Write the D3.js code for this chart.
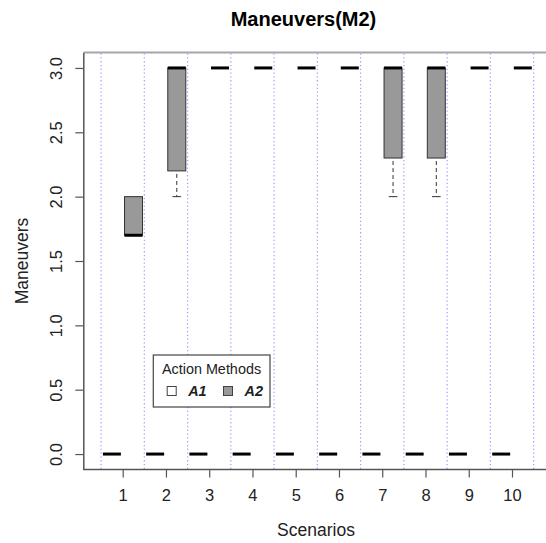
<!DOCTYPE html>
<html>
<head>
<meta charset="utf-8">
<script src="https://cdn.jsdelivr.net/npm/d3@7"></script>
<style>
  html, body { margin: 0; padding: 0; background: #fff; }
  svg { display: block; font-family: "Liberation Sans", Arial, Helvetica, sans-serif; }
</style>
</head>
<body>
<svg id="chart" width="546" height="543"></svg>
<script>
// Scenarios on the x axis
const scenarios = [1, 2, 3, 4, 5, 6, 7, 8, 9, 10];
// Five-number summaries per scenario: [min, q1, median, q3, max]
const statsA1 = [
  [0, 0, 0, 0, 0], [0, 0, 0, 0, 0], [0, 0, 0, 0, 0], [0, 0, 0, 0, 0], [0, 0, 0, 0, 0],
  [0, 0, 0, 0, 0], [0, 0, 0, 0, 0], [0, 0, 0, 0, 0], [0, 0, 0, 0, 0], [0, 0, 0, 0, 0]
];
const statsA2 = [
  [1.7, 1.7, 1.7, 2.0, 2.0],
  [2.0, 2.2, 3.0, 3.0, 3.0],
  [3, 3, 3, 3, 3],
  [3, 3, 3, 3, 3],
  [3, 3, 3, 3, 3],
  [3, 3, 3, 3, 3],
  [2.0, 2.3, 3.0, 3.0, 3.0],
  [2.0, 2.3, 3.0, 3.0, 3.0],
  [3, 3, 3, 3, 3],
  [3, 3, 3, 3, 3]
];
const methods = ["A1", "A2"];
const methodFill = ["#ffffff", "#999999"];
const yTicks = [0, 0.5, 1.0, 1.5, 2.0, 2.5, 3.0];

const svg = d3.select("#chart");
const plotLeft = 83.3, plotTop = 52.5, plotBottom = 469.5, plotRight = 560;

const x = d3.scaleLinear().domain([1, 10]).range([122.7, 512]);
const y = d3.scaleLinear().domain([-0.12, 3.12]).range([plotBottom, plotTop]);

// Dotted separators between scenarios
const seps = d3.range(0.5, 11, 1);
svg.append("g").selectAll("line").data(seps).join("line")
  .attr("x1", d => x(d)).attr("x2", d => x(d))
  .attr("y1", plotTop + 1).attr("y2", plotBottom)
  .attr("stroke", "#9f9fff").attr("stroke-width", 1.2)
  .attr("stroke-dasharray", "1.3,2.5");

// Top frame line
svg.append("line")
  .attr("x1", plotLeft).attr("x2", plotRight).attr("y1", plotTop).attr("y2", plotTop)
  .attr("stroke", "#a6a6a6").attr("stroke-width", 2);

// Y axis
const yAxis = svg.append("g").attr("transform", `translate(${plotLeft},0)`)
  .call(d3.axisLeft(y).tickValues(yTicks).tickFormat(d3.format(".1f")).tickSize(8).tickSizeOuter(0));
yAxis.select(".domain").attr("stroke", "#555").attr("stroke-width", 1.5);
yAxis.selectAll(".tick line").attr("stroke", "#555").attr("stroke-width", 1.2);
yAxis.selectAll(".tick text")
  .attr("x", null).attr("dy", null)
  .attr("transform", "translate(-27,0) rotate(-90)")
  .attr("text-anchor", "middle").attr("dominant-baseline", "central")
  .attr("font-size", 16.5).attr("fill", "#222");

// X axis
const xAxis = svg.append("g").attr("transform", `translate(0,${plotBottom})`)
  .call(d3.axisBottom(x).tickValues(scenarios).tickFormat(d3.format("d")).tickSize(8).tickSizeOuter(0));
xAxis.select(".domain").attr("d", `M${plotLeft},0H${plotRight}`).attr("stroke", "#555").attr("stroke-width", 1.5);
xAxis.selectAll(".tick line").attr("stroke", "#555").attr("stroke-width", 1.2);
xAxis.selectAll(".tick text").attr("y", 26).attr("dy", "0.35em")
  .attr("font-size", 16.5).attr("fill", "#222");

// Boxes
const offset = 0.25, halfW = 0.208, staple = 0.1;
function drawBoxes(stats, mi) {
  const g = svg.append("g");
  stats.forEach((s, i) => {
    const cx = scenarios[i] + (mi === 0 ? -offset : offset);
    const [mn, q1, med, q3, mx] = s;
    // whiskers with end staples
    if (mn < q1) {
      g.append("line").attr("x1", x(cx)).attr("x2", x(cx)).attr("y1", y(q1) + 3).attr("y2", y(mn))
        .attr("stroke", "#333").attr("stroke-width", 1).attr("stroke-dasharray", "4,3");
      g.append("line").attr("x1", x(cx - staple)).attr("x2", x(cx + staple)).attr("y1", y(mn)).attr("y2", y(mn))
        .attr("stroke", "#333").attr("stroke-width", 1);
    }
    if (mx > q3) {
      g.append("line").attr("x1", x(cx)).attr("x2", x(cx)).attr("y1", y(q3) - 3).attr("y2", y(mx))
        .attr("stroke", "#333").attr("stroke-width", 1).attr("stroke-dasharray", "4,3");
      g.append("line").attr("x1", x(cx - staple)).attr("x2", x(cx + staple)).attr("y1", y(mx)).attr("y2", y(mx))
        .attr("stroke", "#333").attr("stroke-width", 1);
    }
    if (q3 > q1) {
      g.append("rect")
        .attr("x", x(cx - halfW)).attr("width", x(cx + halfW) - x(cx - halfW))
        .attr("y", y(q3)).attr("height", y(q1) - y(q3))
        .attr("fill", methodFill[mi]).attr("stroke", "#333").attr("stroke-width", 1);
    }
    g.append("line").attr("x1", x(cx - halfW)).attr("x2", x(cx + halfW))
      .attr("y1", y(med)).attr("y2", y(med))
      .attr("stroke", "#000").attr("stroke-width", 3);
  });
}
drawBoxes(statsA1, 0);
drawBoxes(statsA2, 1);

// Title and axis labels
svg.append("text").attr("x", 303.5).attr("y", 26).attr("text-anchor", "middle")
  .attr("font-size", 20).attr("font-weight", "bold").attr("fill", "#000").text("Maneuvers(M2)");
svg.append("text").attr("x", 316).attr("y", 530).attr("dy", "0.35em").attr("text-anchor", "middle")
  .attr("font-size", 17.5).attr("fill", "#222").text("Scenarios");
svg.append("text").attr("transform", `translate(22,${(plotTop + plotBottom) / 2}) rotate(-90)`)
  .attr("dy", "0.35em").attr("text-anchor", "middle")
  .attr("font-size", 17.5).attr("fill", "#222").text("Maneuvers");

// Legend
const lg = svg.append("g");
lg.append("rect").attr("x", 153.3).attr("y", 355).attr("width", 116.7).attr("height", 52)
  .attr("fill", "#fff").attr("stroke", "#444").attr("stroke-width", 1.2);
lg.append("text").attr("x", 211.5).attr("y", 368.5).attr("dy", "0.35em").attr("text-anchor", "middle")
  .attr("font-size", 14.4).attr("fill", "#222").text("Action Methods");
const legendX = [171.7, 228];
methods.forEach((m, i) => {
  lg.append("rect").attr("x", legendX[i] - 4.5).attr("y", 391 - 4.5).attr("width", 9).attr("height", 9)
    .attr("fill", methodFill[i]).attr("stroke", "#444").attr("stroke-width", 1);
  lg.append("text").attr("x", legendX[i] + 16.5).attr("y", 391).attr("dy", "0.35em")
    .attr("font-size", 14.4).attr("font-weight", "bold").attr("font-style", "italic")
    .attr("fill", "#222").text(m);
});
</script>
</body>
</html>
